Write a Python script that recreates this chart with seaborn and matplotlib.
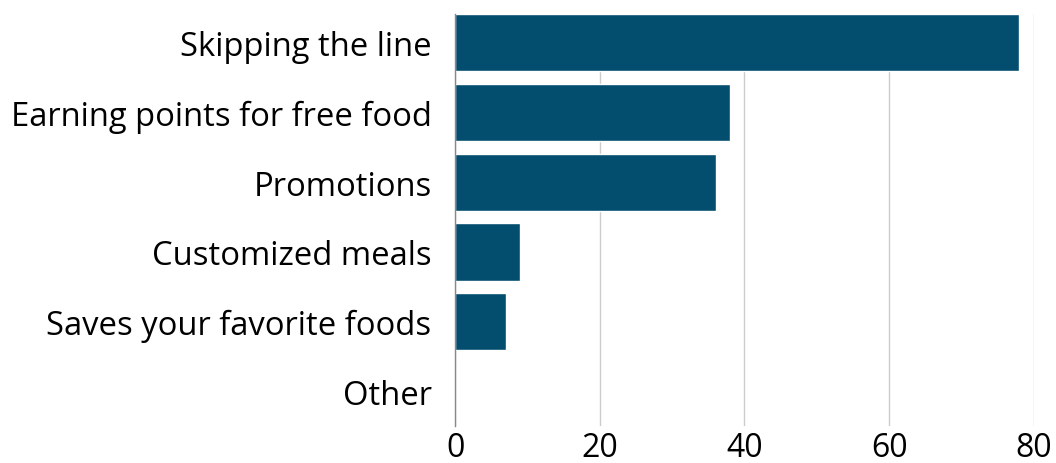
import matplotlib
matplotlib.use('Agg')
import pandas as pd
import matplotlib.pyplot as plt
import seaborn as sns

# Datos
categories = ['Skipping the line', 'Earning points for free food', 'Promotions',
              'Customized meals', 'Saves your favorite foods', 'Other']
values = [78, 38, 36, 9, 7, 0]
x_ticks = [0, 20, 40, 60, 80]

df = pd.DataFrame({'reason': categories, 'count': values})

sns.set_theme(style="white")
plt.rcParams['font.family'] = ['Open Sans', 'DejaVu Sans']

fig = plt.figure(figsize=(10.56, 4.64), dpi=100)
ax = fig.add_axes([0.431, 0.0787, 0.548, 0.889])

sns.barplot(data=df, y='reason', x='count', orient='h', color='#034d6f',
            saturation=1, width=0.82, ax=ax)

ax.set_xlim(0, 80)
ax.set_ylim(5.5, -0.41)
ax.set_xticks(x_ticks)
ax.set_xlabel('')
ax.set_ylabel('')
ax.xaxis.grid(True, color='#cccccc', linewidth=1)
ax.set_axisbelow(True)
for s in ['top', 'right', 'bottom']:
    ax.spines[s].set_visible(False)
ax.spines['left'].set_color('#888888')
ax.spines['left'].set_linewidth(1)
ax.tick_params(axis='both', length=0, colors='black')
ax.tick_params(axis='y', labelsize=23.6, pad=17)
ax.tick_params(axis='x', labelsize=23, pad=3)

fig.savefig('out.png', dpi=100)
